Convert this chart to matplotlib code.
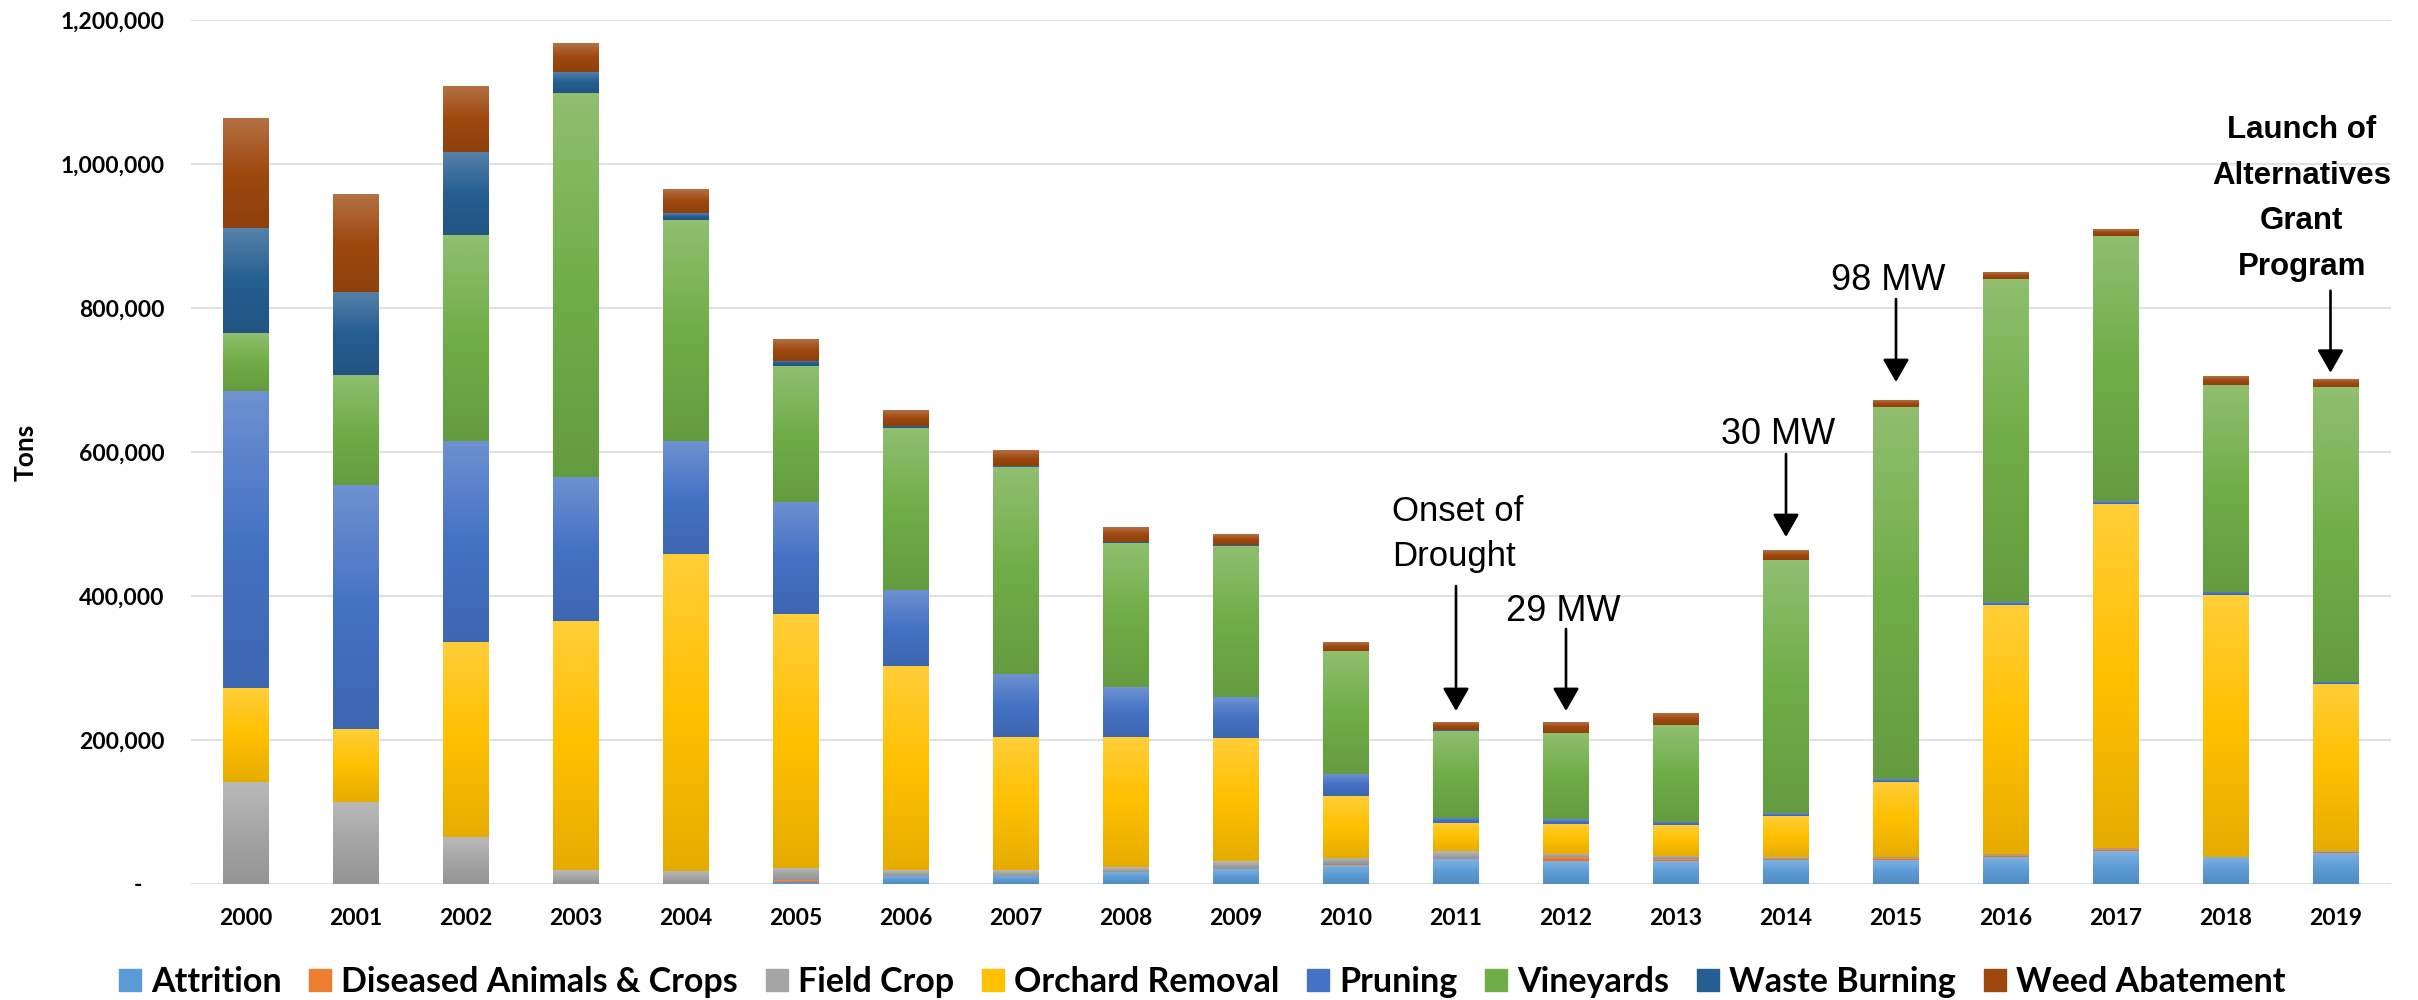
import numpy as np
import matplotlib
matplotlib.use("Agg")
import matplotlib.pyplot as plt
import matplotlib.patches as mpatches
from matplotlib.colors import LinearSegmentedColormap, to_rgb
from matplotlib.ticker import FuncFormatter

plt.rcParams['font.family'] = ['Lato', 'DejaVu Sans']

years = [str(y) for y in range(2000, 2020)]

# tons per category
attrition = [0, 0, 0, 0, 0, 3000, 11600, 11600, 17100, 20800,
             25900, 34700, 31900, 31900, 33300, 33800, 37500, 45400, 37500, 43500]
diseased = [0, 0, 0, 0, 0, 2000, 0, 0, 0, 0,
            1900, 500, 5600, 2400, 1900, 1800, 2300, 2700, 0, 1500]
field_crop = [142100, 114300, 64800, 19400, 18100, 17700, 7800, 7800, 6500, 11100,
              8800, 10200, 4200, 5000, 2300, 1900, 1900, 2300, 400, 500]
orchard = [130100, 101000, 271300, 345900, 440700, 352300, 283800, 184800, 180600, 171300,
           85600, 38900, 42100, 42600, 56900, 104600, 345800, 477800, 363900, 232300]
pruning = [412500, 338900, 279200, 200000, 156500, 155600, 105600, 87900, 69400, 56500,
           31000, 7900, 6100, 4600, 3800, 3300, 3800, 3300, 4200, 3200]
vineyards = [80600, 152700, 286100, 533300, 306900, 188800, 224500, 287100, 200000, 210200,
             170400, 120800, 119800, 134300, 351800, 517100, 449000, 368500, 286600, 409300]
waste_burning = [145800, 115300, 115300, 29200, 9700, 7000, 2800, 1300, 1400, 1100,
                 400, 300, 300, 200, 300, 300, 300, 300, 300, 300]
weed = [151400, 136100, 91600, 38900, 32000, 29200, 22200, 20900, 20800, 15100,
        12100, 10800, 15000, 16500, 13600, 9400, 9400, 9000, 11300, 10800]

series = [
    ("Attrition", attrition, "#5B9BD5"),
    ("Diseased Animals & Crops", diseased, "#ED7D31"),
    ("Field Crop", field_crop, "#A5A5A5"),
    ("Orchard Removal", orchard, "#FFC000"),
    ("Pruning", pruning, "#4472C4"),
    ("Vineyards", vineyards, "#70AD47"),
    ("Waste Burning", waste_burning, "#255E91"),
    ("Weed Abatement", weed, "#9E480E"),
]


def gradient_cmap(color):
    # excel-like fill: lighter on top, a bit darker at the bottom
    c = np.array(to_rgb(color))
    light = c + (1 - c) * 0.22
    dark = c * 0.9
    return LinearSegmentedColormap.from_list("g", [dark, c, light])


fig = plt.figure(figsize=(24.18, 10), dpi=100)
ax = fig.add_axes([191 / 2418, 0.116, 2200 / 2418, 0.864])

x = np.arange(len(years))
width = 0.41
grad = np.linspace(0, 1, 64).reshape(-1, 1)
bottom = np.zeros(len(years))
handles = []
for name, vals, color in series:
    vals = np.array(vals, dtype=float)
    bars = ax.bar(x, vals, width, bottom=bottom, color=color, linewidth=0, zorder=2)
    cmap = gradient_cmap(color)
    for r in bars:
        if r.get_height() <= 0:
            continue
        x0, y0 = r.get_x(), r.get_y()
        ax.imshow(grad, cmap=cmap, origin="lower", aspect="auto", interpolation="bilinear",
                  extent=(x0, x0 + r.get_width(), y0, y0 + r.get_height()), zorder=2.5)
    bottom += vals
    handles.append(mpatches.Patch(color=color, label=name))

ax.set_xlim(-0.5, len(years) - 0.5)
ax.set_ylim(0, 1200000)
ax.set_xticks(x)
ax.set_xticklabels(years, fontsize=16.5, fontweight="bold")
ax.set_yticks(np.arange(0, 1200001, 200000))
ax.yaxis.set_major_formatter(FuncFormatter(lambda v, p: "-    " if v == 0 else f"{v:,.0f}"))
for lab in ax.get_yticklabels():
    lab.set_fontweight("bold")
    lab.set_fontsize(16.5)
ax.tick_params(axis="both", length=0)
ax.tick_params(axis="x", pad=17)
ax.tick_params(axis="y", pad=19)
ax.grid(axis="y", color="#DDE2E8", linewidth=1.6)
ax.set_axisbelow(True)
for s in ax.spines.values():
    s.set_visible(False)

fig.text(25.5 / 2418, 0.548, "Tons", rotation=90, ha="center", va="center",
         fontsize=19, fontweight="bold")

# annotations
arrow = dict(arrowstyle="-|>,head_length=0.4,head_width=0.23", color="black",
             lw=1.9, mutation_scale=35, shrinkA=0, shrinkB=0)
notes = [
    (11, 413900, 240300),
    (12, 354200, 240300),
    (14, 597200, 481900),
    (15, 812500, 697200),
    (18.95, 824000, 710100),
]
for xa, y_from, y_to in notes:
    ax.annotate("", xy=(xa, y_to), xytext=(xa, y_from), arrowprops=arrow)

ann_font = ["Liberation Sans", "DejaVu Sans"]
ax.text(10.42, 540300, "Onset of\nDrought", ha="left", va="top", fontsize=25,
        family=ann_font, linespacing=1.45)
ax.text(11.98, 402800, "29 MW", ha="center", va="top", fontsize=26, family=ann_font)
ax.text(13.93, 648600, "30 MW", ha="center", va="top", fontsize=26, family=ann_font)
ax.text(14.93, 862500, "98 MW", ha="center", va="top", fontsize=26, family=ann_font)
ax.text(18.69, 1068000, "Launch of\nAlternatives\nGrant\nProgram", ha="center", va="top",
        fontsize=22.5, fontweight="bold", family=ann_font, linespacing=1.68,
        multialignment="center")

fig.legend(handles=handles, loc="center", bbox_to_anchor=(1202 / 2418, 0.018), ncol=8,
           frameon=False, prop={"size": 24.5, "weight": "bold"}, handlelength=0.65,
           handleheight=0.65, handletextpad=0.29, columnspacing=0.82)

fig.savefig("out.png", dpi=100)
